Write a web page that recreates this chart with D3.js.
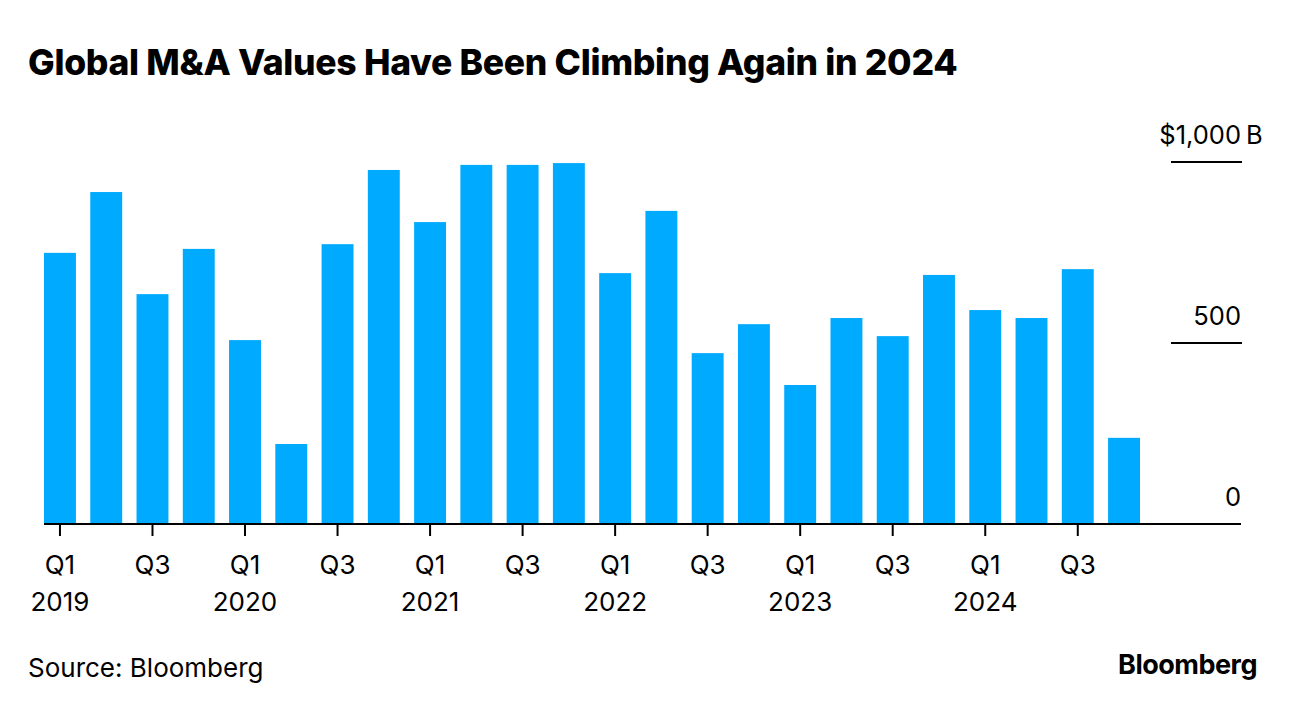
<!DOCTYPE html>
<html>
<head>
<meta charset="utf-8">
<script src="https://cdn.jsdelivr.net/npm/d3@7"></script>
<style>
  body { margin: 0; background: #fff; }
  text { font-family: Inter, "Liberation Sans", sans-serif; fill: #000; }
</style>
</head>
<body>
<svg id="chart" width="1296" height="710"></svg>
<script>
// quarters 2019 Q1 .. 2024 Q4
const quarters = ['Q1', 'Q2', 'Q3', 'Q4'];
const years = ['2019', '2020', '2021', '2022', '2023', '2024'];
// global M&A value, $B
const values = [749, 917, 635, 760, 508, 221, 773, 978, 834, 992, 992, 997,
                693, 865, 472, 552, 384, 569, 519, 688, 591, 569, 704, 238];
const y_ticks = [0, 500, 1000];
const y_tick_labels = ['0', '500', '$1,000'];
const y_unit = 'B';

const svg = d3.select('#chart');

const periods = [];
years.forEach(y => quarters.forEach(q => periods.push(y + ' ' + q)));

const xScale = d3.scaleBand()
    .domain(periods)
    .range([44, 1140])
    .paddingInner(0.31)
    .paddingOuter(0);

const yScale = d3.scaleLinear()
    .domain([0, 1000])
    .range([524, 162]);

// title
svg.append('text')
    .attr('x', 28)
    .attr('y', 75)
    .attr('font-size', 35.5)
    .attr('font-weight', 800)
    .attr('letter-spacing', -0.3)
    .text('Global M&A Values Have Been Climbing Again in 2024');

// y grid ticks (right side)
const yg = svg.append('g');
y_ticks.forEach((t, i) => {
    if (t > 0) {
        yg.append('line')
            .attr('x1', 1171).attr('x2', 1242)
            .attr('y1', yScale(t)).attr('y2', yScale(t))
            .attr('stroke', '#000').attr('stroke-width', 2);
    }
    yg.append('text')
        .attr('x', 1241)
        .attr('y', yScale(t) - 18)
        .attr('text-anchor', 'end')
        .attr('font-size', 25.5)
        .text(y_tick_labels[i]);
    if (i === y_ticks.length - 1) {
        yg.append('text')
            .attr('x', 1246)
            .attr('y', yScale(t) - 18)
            .attr('font-size', 25.5)
            .text(y_unit);
    }
});

// bars
svg.append('g').selectAll('rect')
    .data(values)
    .join('rect')
    .attr('x', (d, i) => xScale(periods[i]))
    .attr('y', d => yScale(d))
    .attr('width', xScale.bandwidth())
    .attr('height', d => yScale(0) - yScale(d))
    .attr('fill', '#00aaff');

// baseline
svg.append('line')
    .attr('x1', 44).attr('x2', 1241)
    .attr('y1', yScale(0)).attr('y2', yScale(0))
    .attr('stroke', '#000').attr('stroke-width', 2);

// x ticks: Q1 and Q3, year under Q1
const xg = svg.append('g');
periods.forEach((p, i) => {
    const q = i % 4;
    if (q !== 0 && q !== 2) return;
    const cx = xScale(p) + xScale.bandwidth() / 2;
    xg.append('line')
        .attr('x1', cx).attr('x2', cx)
        .attr('y1', 525).attr('y2', 536)
        .attr('stroke', '#000').attr('stroke-width', 2);
    xg.append('text')
        .attr('x', cx).attr('y', 574)
        .attr('text-anchor', 'middle')
        .attr('font-size', 26)
        .text(quarters[q]);
    if (q === 0) {
        xg.append('text')
            .attr('x', cx).attr('y', 611)
            .attr('text-anchor', 'middle')
            .attr('font-size', 26)
            .text(years[Math.floor(i / 4)]);
    }
});

// footer
svg.append('text')
    .attr('x', 28).attr('y', 677)
    .attr('font-size', 26)
    .text('Source: Bloomberg');

svg.append('text')
    .attr('x', 1257).attr('y', 674)
    .attr('text-anchor', 'end')
    .attr('font-size', 27)
    .attr('font-weight', 700)
    .attr('letter-spacing', -0.5)
    .text('Bloomberg');
</script>
</body>
</html>
